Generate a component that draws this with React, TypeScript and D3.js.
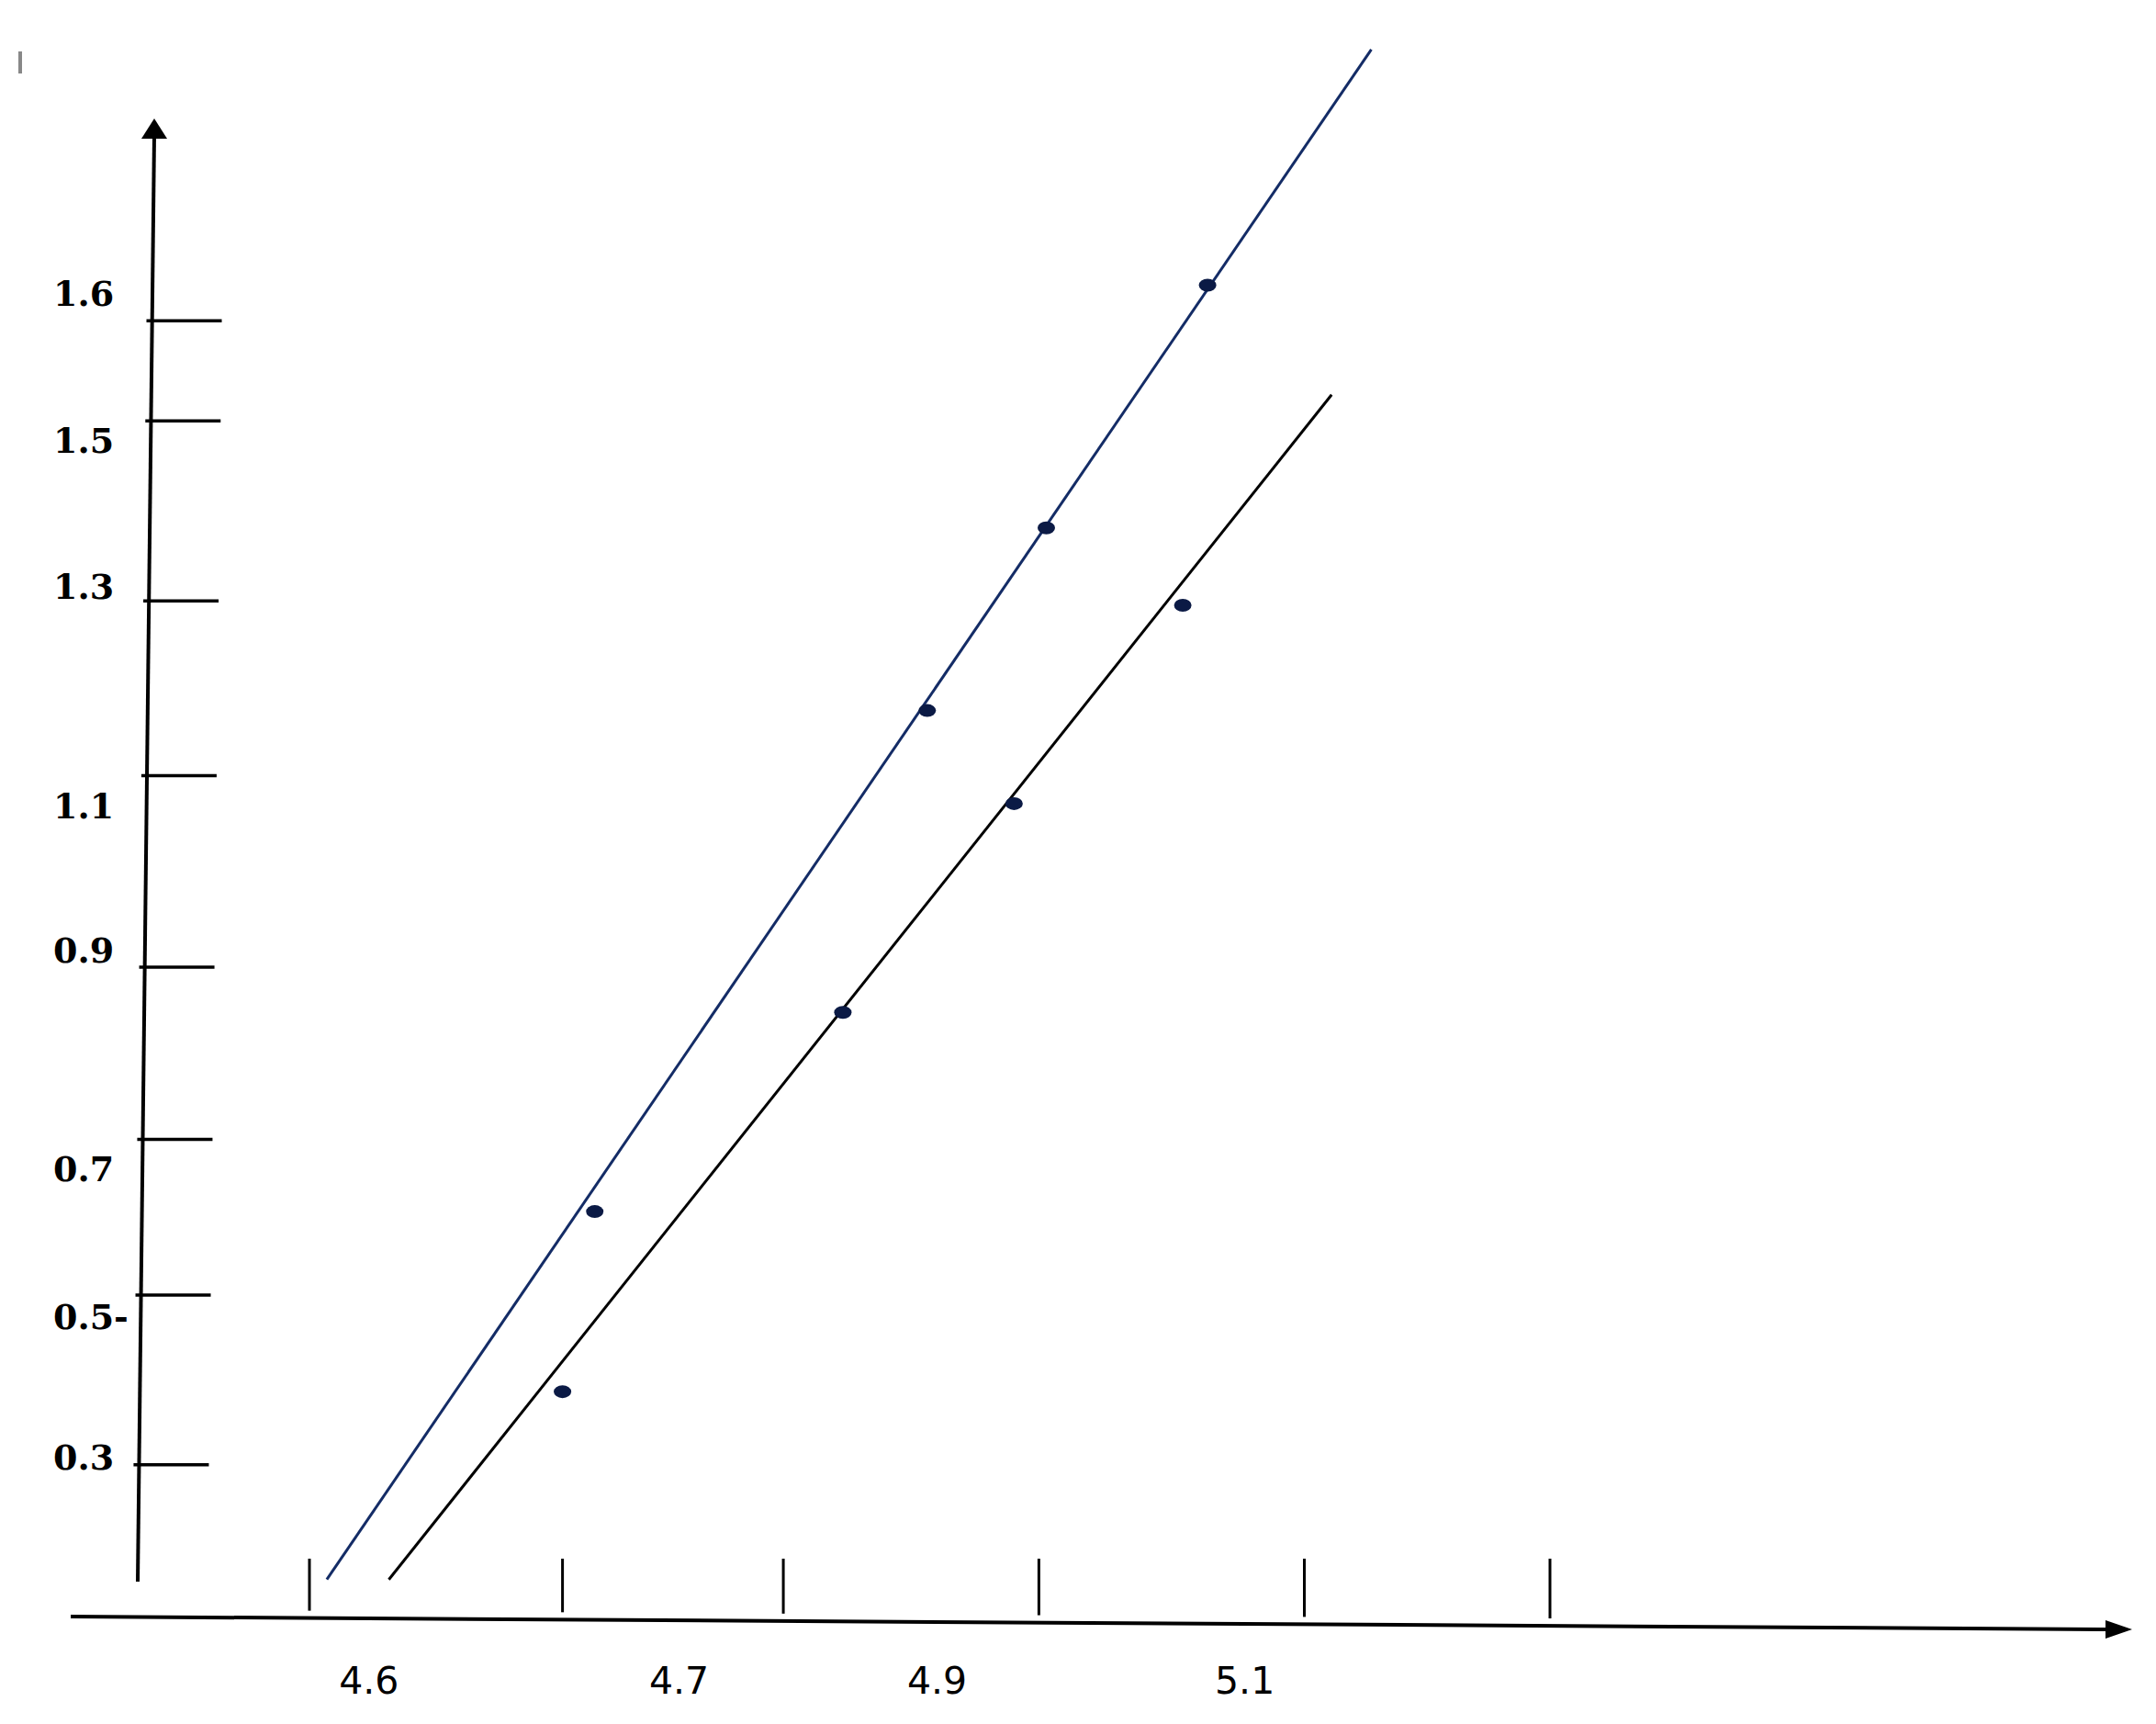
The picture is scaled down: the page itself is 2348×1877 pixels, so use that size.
// react
import React, { useEffect, useRef } from 'react';
// d3
import * as d3 from 'd3';

const svgWidth = 2348;
const svgHeight = 1877;

// axis ticks as drawn (values), and their labels
const xTicks = [4.6, 4.702, 4.791, 4.894, 5.001, 5.1];
const xLabels = ['4.6', '4.7', '4.9', '5.1'];
const xLabelAt = [4.624, 4.749, 4.853, 4.977];

const yTicks = [1.615, 1.5, 1.293, 1.092, 0.872, 0.674, 0.495, 0.3];
const yLabels = ['1.6', '1.5', '1.3', '1.1', '0.9', '0.7', '0.5-', '0.3'];
const yLabelAt = [1.632, 1.463, 1.295, 1.043, 0.877, 0.626, 0.456, 0.294];

// measured points
const upperX = [4.715, 4.849, 4.897, 4.962];
const upperY = [0.591, 1.167, 1.377, 1.656];
const lowerX = [4.702, 4.815, 4.884, 4.952];
const lowerY = [0.384, 0.82, 1.06, 1.288];

// fitted lines (end points)
const upperLineX = [4.607, 5.028];
const upperLineY = [0.168, 1.927];
const lowerLineX = [4.632, 5.012];
const lowerLineY = [0.168, 1.53];

const BLUE = '#142c66';
const DOT = '#0b1a45';

// hand drawn axes, slightly tilted
const yAxisTop = [168, 129];
const yAxisBottom = [150, 1722];
const xAxisLeft = [77, 1760];
const xAxisRight = [2322, 1774];

const axisXAt = (py) =>
    yAxisTop[0] + (py - yAxisTop[1]) * (yAxisBottom[0] - yAxisTop[0]) / (yAxisBottom[1] - yAxisTop[1]);
const axisYAt = (px) =>
    xAxisLeft[1] + (px - xAxisLeft[0]) * (xAxisRight[1] - xAxisLeft[1]) / (xAxisRight[0] - xAxisLeft[0]);

const xScale = d3.scaleLinear().domain([4.6, 5.1]).range([337, 1688]);
const yScale = d3.scaleLinear().domain([0.3, 1.5]).range([1594.7, 458.2]);

const App = () => {
    const ref = useRef(null);

    useEffect(() => {
        const svg = d3.select(ref.current);
        svg.selectAll('*').remove();

        // stray mark top-left
        svg.append('line')
            .attr('x1', 22).attr('x2', 22).attr('y1', 56).attr('y2', 80)
            .attr('stroke', '#888').attr('stroke-width', 4);

        // y axis
        svg.append('line')
            .attr('x1', yAxisBottom[0]).attr('y1', yAxisBottom[1])
            .attr('x2', yAxisTop[0]).attr('y2', yAxisTop[1] + 18)
            .attr('stroke', '#000').attr('stroke-width', 4);
        svg.append('path')
            .attr('d', d3.line()([
                [yAxisTop[0], yAxisTop[1]],
                [yAxisTop[0] + 14, yAxisTop[1] + 22],
                [yAxisTop[0] - 14, yAxisTop[1] + 22]
            ]) + 'Z')
            .attr('fill', '#000');

        // x axis
        svg.append('line')
            .attr('x1', xAxisLeft[0]).attr('y1', xAxisLeft[1])
            .attr('x2', xAxisRight[0] - 20).attr('y2', xAxisRight[1])
            .attr('stroke', '#000').attr('stroke-width', 4);
        svg.append('path')
            .attr('d', d3.line()([
                [xAxisRight[0], xAxisRight[1]],
                [xAxisRight[0] - 29, xAxisRight[1] - 10],
                [xAxisRight[0] - 29, xAxisRight[1] + 10]
            ]) + 'Z')
            .attr('fill', '#000');

        // y ticks
        svg.selectAll('.yTick')
            .data(yTicks)
            .enter()
            .append('line')
            .attr('class', 'yTick')
            .attr('x1', d => axisXAt(yScale(d)) - 6)
            .attr('x2', d => axisXAt(yScale(d)) + 76)
            .attr('y1', d => yScale(d))
            .attr('y2', d => yScale(d))
            .attr('stroke', '#000')
            .attr('stroke-width', 3.5);

        svg.selectAll('.yLabel')
            .data(yLabels)
            .enter()
            .append('text')
            .attr('class', 'yLabel')
            .attr('x', 58)
            .attr('y', (d, i) => yScale(yLabelAt[i]))
            .attr('font-family', '"DejaVu Serif", serif')
            .attr('font-weight', 'bold')
            .attr('font-size', 38)
            .attr('fill', '#000')
            .text(d => d);

        // x ticks
        svg.selectAll('.xTick')
            .data(xTicks)
            .enter()
            .append('line')
            .attr('class', 'xTick')
            .attr('x1', d => xScale(d))
            .attr('x2', d => xScale(d))
            .attr('y1', 1697)
            .attr('y2', d => axisYAt(xScale(d)) - 8)
            .attr('stroke', '#000')
            .attr('stroke-width', 3);

        svg.selectAll('.xLabel')
            .data(xLabels)
            .enter()
            .append('text')
            .attr('class', 'xLabel')
            .attr('x', (d, i) => xScale(xLabelAt[i]))
            .attr('y', 1844)
            .attr('text-anchor', 'middle')
            .attr('font-family', '"DejaVu Sans", sans-serif')
            .attr('font-size', 41)
            .attr('fill', '#000')
            .text(d => d);

        // the two lines
        const line = d3.line().x(d => xScale(d[0])).y(d => yScale(d[1]));
        svg.append('path')
            .attr('d', line(d3.zip(upperLineX, upperLineY)))
            .attr('stroke', BLUE)
            .attr('stroke-width', 3)
            .attr('fill', 'none');
        svg.append('path')
            .attr('d', line(d3.zip(lowerLineX, lowerLineY)))
            .attr('stroke', '#000')
            .attr('stroke-width', 3)
            .attr('fill', 'none');

        // points
        const pts = d3.zip(upperX, upperY).concat(d3.zip(lowerX, lowerY));
        svg.selectAll('.dot')
            .data(pts)
            .enter()
            .append('ellipse')
            .attr('class', 'dot')
            .attr('cx', d => xScale(d[0]))
            .attr('cy', d => yScale(d[1]))
            .attr('rx', 9.5)
            .attr('ry', 7)
            .attr('fill', DOT);
    }, []);

    return (
        <svg
            ref={ref}
            width={svgWidth}
            height={svgHeight}
            style={{ position: 'absolute', left: 0, top: 0, background: '#fff' }}
        />
    );
};

export default App;
